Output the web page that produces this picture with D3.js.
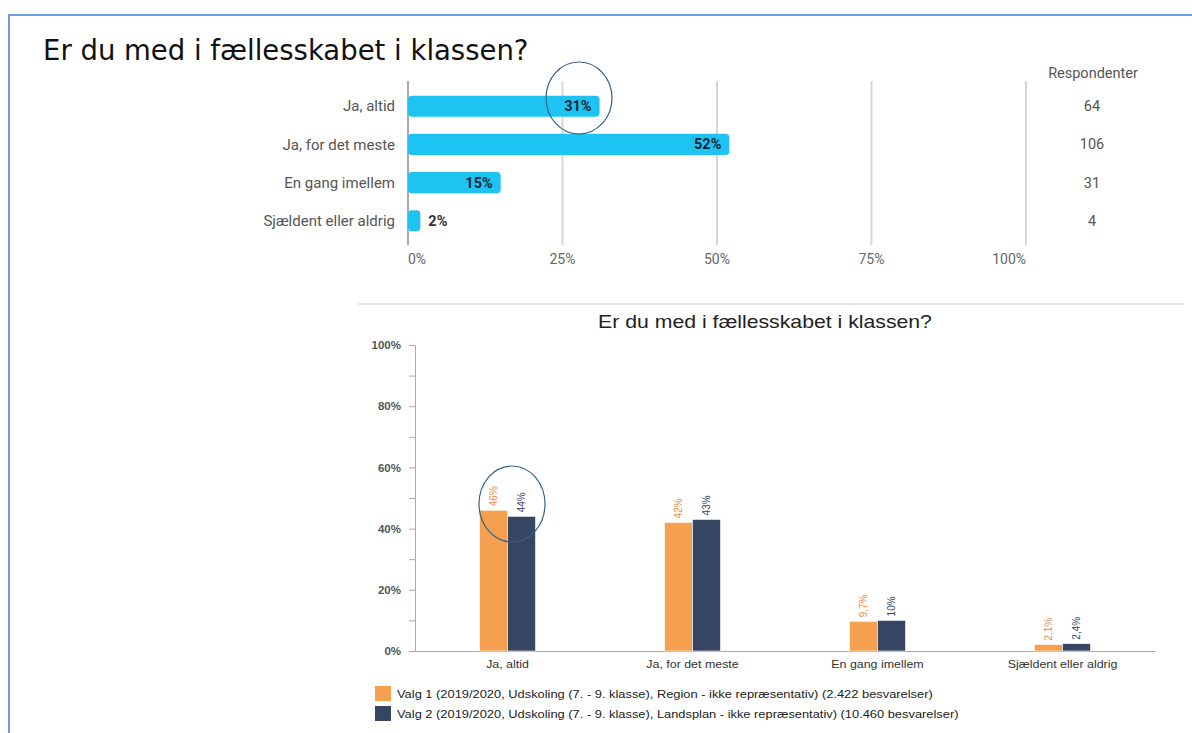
<!DOCTYPE html>
<html>
<head>
<meta charset="utf-8">
<script src="https://cdn.jsdelivr.net/npm/d3@7"></script>
<style>
  body { margin: 0; background: #fff; }
  svg { display: block; }
</style>
</head>
<body>
<svg width="1192" height="733"></svg>
<script>
// top chart data
var categories = ["Ja, altid", "Ja, for det meste", "En gang imellem", "Sjældent eller aldrig"];
var shares = [31, 52, 15, 2];
var respondents = [64, 106, 31, 4];
var topTicks = [0, 25, 50, 75, 100];

// bottom chart data
var seriesNames = [
  "Valg 1 (2019/2020, Udskoling (7. - 9. klasse), Region - ikke repræsentativ) (2.422 besvarelser)",
  "Valg 2 (2019/2020, Udskoling (7. - 9. klasse), Landsplan - ikke repræsentativ) (10.460 besvarelser)"
];
var region = [46, 42, 9.7, 2.1];
var landsplan = [44, 43, 10, 2.4];
var regionLabels = ["46%", "42%", "9,7%", "2,1%"];
var landsplanLabels = ["44%", "43%", "10%", "2,4%"];
var seriesColors = ["#f4a04e", "#364563"];
var labelColors = ["#e58f45", "#364563"];

var svg = d3.select("svg");

// frame around the screenshot
svg.append("path")
    .attr("d", "M9,740 L9,15 L1200,15")
    .attr("fill", "none")
    .attr("stroke", "#6a9fdc")
    .attr("stroke-width", 2);

svg.append("text")
    .attr("x", 43).attr("y", 60)
    .attr("font-family", "DejaVu Sans")
    .attr("font-size", 27.5)
    .attr("fill", "#111")
    .text("Er du med i fællesskabet i klassen?");

// ---------- top horizontal bar chart
var x = d3.scaleLinear().domain([0, 100]).range([408, 1026]);
var y = d3.scaleBand().domain(categories).range([88, 239]).paddingInner(0.45).paddingOuter(0.2);

var topChart = svg.append("g").attr("font-family", "Roboto");

topChart.selectAll(".grid")
    .data(topTicks).enter()
    .append("line")
    .attr("x1", function(d) { return x(d); })
    .attr("x2", function(d) { return x(d); })
    .attr("y1", 81).attr("y2", 245)
    .attr("stroke", function(d) { return d === 0 ? "#aaa" : "#d6d6d6"; })
    .attr("stroke-width", 2);

topChart.selectAll(".tick")
    .data(topTicks).enter()
    .append("text")
    .attr("x", function(d) { return x(d); })
    .attr("y", 264)
    .attr("text-anchor", function(d, i) { return i === 0 ? "start" : i === topTicks.length - 1 ? "end" : "middle"; })
    .attr("font-size", 14)
    .attr("fill", "#666")
    .text(function(d) { return d + "%"; });

topChart.selectAll(".bar")
    .data(categories).enter()
    .append("rect")
    .attr("x", x(0))
    .attr("y", function(d) { return y(d); })
    .attr("width", function(d, i) { return x(shares[i]) - x(0); })
    .attr("height", y.bandwidth())
    .attr("rx", 4)
    .attr("fill", "#1fc3f1");

topChart.selectAll(".cat")
    .data(categories).enter()
    .append("text")
    .attr("x", 395)
    .attr("y", function(d) { return y(d) + y.bandwidth() / 2; })
    .attr("dy", "0.35em")
    .attr("text-anchor", "end")
    .attr("font-size", 15)
    .attr("fill", "#555")
    .text(function(d) { return d; });

topChart.selectAll(".val")
    .data(categories).enter()
    .append("text")
    .attr("x", function(d, i) { return shares[i] < 5 ? x(shares[i]) + 8 : x(shares[i]) - 8; })
    .attr("y", function(d) { return y(d) + y.bandwidth() / 2; })
    .attr("dy", "0.35em")
    .attr("text-anchor", function(d, i) { return shares[i] < 5 ? "start" : "end"; })
    .attr("font-size", 14.5)
    .attr("font-weight", "bold")
    .attr("fill", function(d, i) { return shares[i] < 5 ? "#333" : "#10283a"; })
    .text(function(d, i) { return shares[i] + "%"; });

topChart.append("text")
    .attr("x", 1093).attr("y", 78)
    .attr("text-anchor", "middle")
    .attr("font-size", 14.5)
    .attr("fill", "#555")
    .text("Respondenter");

topChart.selectAll(".resp")
    .data(categories).enter()
    .append("text")
    .attr("x", 1092)
    .attr("y", function(d) { return y(d) + y.bandwidth() / 2; })
    .attr("dy", "0.35em")
    .attr("text-anchor", "middle")
    .attr("font-size", 14.5)
    .attr("fill", "#555")
    .text(function(d, i) { return respondents[i]; });

// hand drawn circle
svg.append("ellipse")
    .attr("cx", 579).attr("cy", 98).attr("rx", 33).attr("ry", 36)
    .attr("fill", "none").attr("stroke", "#34608f").attr("stroke-width", 1.2);

// divider
svg.append("line")
    .attr("x1", 358).attr("x2", 1183).attr("y1", 304).attr("y2", 304)
    .attr("stroke", "#e4e4e4").attr("stroke-width", 2);

// ---------- bottom grouped column chart (screenshot is a bit stretched sideways)
var bottom = svg.append("g").attr("font-family", "Liberation Sans, Arial");

bottom.append("text")
    .attr("transform", "translate(765,328) scale(1.18,1)")
    .attr("text-anchor", "middle")
    .attr("font-size", 18)
    .attr("fill", "#222")
    .text("Er du med i fællesskabet i klassen?");

var x0 = d3.scaleBand().domain(categories).range([415, 1155]);
var x1 = d3.scaleBand().domain([0, 1]).range([0, 56]);
var y2 = d3.scaleLinear().domain([0, 100]).range([651, 345]);

var yAxis = d3.axisLeft(y2)
    .tickValues(d3.range(0, 101, 10))
    .tickSize(6)
    .tickFormat(function(d) { return d % 20 === 0 ? d + "%" : ""; });

var yg = bottom.append("g")
    .attr("transform", "translate(415,0)")
    .call(yAxis);
yg.select(".domain").attr("stroke", "#aaa");
yg.selectAll(".tick line").attr("stroke", "#aaa");
yg.selectAll(".tick text")
    .attr("x", -14)
    .attr("font-size", 11.5)
    .attr("font-weight", "bold")
    .attr("fill", "#555");

var xAxis = d3.axisBottom(x0).tickSize(0).tickPadding(9);
var xg = bottom.append("g")
    .attr("transform", "translate(0,651)")
    .call(xAxis);
xg.select(".domain").attr("stroke", "#aaa");
xg.selectAll(".tick text")
    .attr("transform", "scale(1.08,1)")
    .attr("font-size", 11.5)
    .attr("fill", "#333");

var groups = bottom.selectAll(".grp")
    .data(categories).enter()
    .append("g")
    .attr("transform", function(d) { return "translate(" + (x0(d) + x0.bandwidth() / 2 - 28) + ",0)"; });

var seriesVals = [region, landsplan];
var seriesLabels = [regionLabels, landsplanLabels];

[0, 1].forEach(function(s) {
  groups.append("rect")
      .attr("x", x1(s))
      .attr("y", function(d, i) { return y2(seriesVals[s][i]); })
      .attr("width", x1.bandwidth())
      .attr("height", function(d, i) { return y2(0) - y2(seriesVals[s][i]); })
      .attr("fill", seriesColors[s])
      .attr("stroke", "#fff")
      .attr("stroke-width", 0.6);

  groups.append("text")
      .attr("transform", function(d, i) {
        return "translate(" + (x1(s) + x1.bandwidth() / 2) + "," + (y2(seriesVals[s][i]) - 4) + ") rotate(-90)";
      })
      .attr("dy", "0.35em")
      .attr("font-size", 10)
      .attr("fill", labelColors[s])
      .text(function(d, i) { return seriesLabels[s][i]; });
});

// hand drawn circle
svg.append("ellipse")
    .attr("cx", 512).attr("cy", 504).attr("rx", 33).attr("ry", 38)
    .attr("fill", "none").attr("stroke", "#34608f").attr("stroke-width", 1.2);

// legend
var legend = bottom.selectAll(".leg")
    .data(seriesNames).enter()
    .append("g")
    .attr("transform", function(d, i) { return "translate(375," + (686 + i * 20) + ")"; });
legend.append("rect")
    .attr("width", 16).attr("height", 15)
    .attr("fill", function(d, i) { return seriesColors[i]; });
legend.append("text")
    .attr("transform", "translate(22,8) scale(1.12,1)")
    .attr("dy", "0.35em")
    .attr("font-size", 11.5)
    .attr("fill", "#222")
    .text(function(d) { return d; });
</script>
</body>
</html>
